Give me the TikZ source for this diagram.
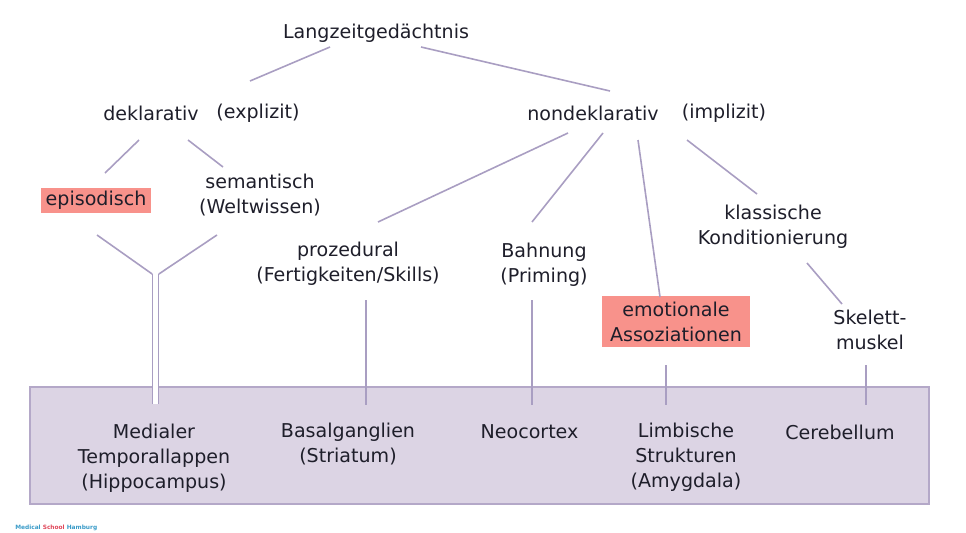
\documentclass[tikz,border=0pt]{standalone}
\usepackage{fontspec}
\setmainfont{DejaVu Sans}
\usepackage{xcolor}
\usepackage{tikz}
\usetikzlibrary{positioning}
\definecolor{mslila}{HTML}{A99EC2}
\definecolor{msbox}{HTML}{DCD4E4}
\definecolor{msrand}{HTML}{B4A8C8}
\definecolor{msrosa}{HTML}{F8928B}
\definecolor{mstext}{HTML}{1E1E2A}
\definecolor{msblau}{HTML}{3A9BC8}
\definecolor{msrot}{HTML}{E0475A}

\begin{document}
\begin{tikzpicture}[
  x=0.75pt, y=-0.75pt,
  lbl/.style={
    inner sep=0pt, align=center, text=mstext,
    font=\fontsize{14.3}{18.75}\selectfont
  },
  hilite/.style={
    lbl, fill=msrosa, minimum width=#1, minimum height=18.75pt
  },
  conn/.style={draw=mslila, line width=1.2pt},
]
\useasboundingbox (0,0) rectangle (966,532);

% Hirnstrukturen (Kasten unten)
\draw[fill=msbox, draw=msrand, line width=1pt] (30,387) rectangle (929,504);

% Obere Ebenen
\node[lbl] (lang) at (376,33) {Langzeitgedächtnis};
\node[lbl] (dekl) at (151,113) {deklarativ};
\node[lbl] (expl) at (258,113) {(explizit)};
\node[lbl] (nondekl) at (593,113) {nondeklarativ};
\node[lbl] (impl) at (724,113) {(implizit)};

% deklarativ
\node[hilite=82.5pt] (epi) at (96,200.5) {episodisch};
\node[lbl] (sem) at (260,195) {semantisch\\(Weltwissen)};

% nondeklarativ
\node[lbl] (proz) at (348,264) {prozedural\\(Fertigkeiten/Skills)};
\node[lbl] (bahn) at (544,265) {Bahnung\\(Priming)};
\node[hilite=111pt, minimum height=38.25pt] (emo) at (676,321.5) {emotionale\\Assoziationen};
\node[lbl] (klass) at (773,227) {klassische\\Konditionierung};
\node[lbl] (skel) at (870,330) {Skelett-\\muskel};

% Strukturen
\node[lbl] (medial) at (154,458) {Medialer\\Temporallappen\\(Hippocampus)};
\node[lbl] (basal) at (348,444.5) {Basalganglien\\(Striatum)};
\node[lbl] (neo) at (529.5,432) {Neocortex};
\node[lbl] (limb) at (686,457.5) {Limbische\\Strukturen\\(Amygdala)};
\node[lbl] (cereb) at (840,432) {Cerebellum};

% Verbindungen
\draw[conn] ([shift={(-46,14)}]lang.center) -- ([shift={(99,-32)}]dekl.center);
\draw[conn] ([shift={(45,14)}]lang.center) -- ([shift={(17,-22)}]nondekl.center);
\draw[conn] ([shift={(-12,27)}]dekl.center) -- ([shift={(9,-27.5)}]epi.center);
\draw[conn] ([shift={(37,27)}]dekl.center) -- ([shift={(-37,-28)}]sem.center);

\coordinate (ytop) at (155.5,274);
\draw[conn] ([shift={(1,34.5)}]epi.center) -- ([xshift=-2.5]ytop);
\draw[conn] ([shift={(-43,40)}]sem.center) -- ([xshift=2.5]ytop);
\draw[conn, double=white, double distance=3.5pt, line width=0.9pt]
  (ytop) -- ([shift={(1.5,-54)}]medial.center);

\draw[conn] ([shift={(-25,20)}]nondekl.center) -- ([shift={(30,-42)}]proz.center);
\draw[conn] ([shift={(10,20)}]nondekl.center) -- ([shift={(-12,-43)}]bahn.center);
\draw[conn] ([shift={(45,27)}]nondekl.center) -- ([shift={(-16,-24.5)}]emo.center);
\draw[conn] ([shift={(94,27)}]nondekl.center) -- ([shift={(-16,-33)}]klass.center);
\draw[conn] ([shift={(34,36)}]klass.center) -- ([shift={(-28,-26)}]skel.center);

\draw[conn] ([shift={(18,36)}]proz.center) -- ([shift={(18,-39.5)}]basal.center);
\draw[conn] ([shift={(-12,35)}]bahn.center) -- ([shift={(2.5,-27)}]neo.center);
\draw[conn] ([shift={(-10,43.5)}]emo.center) -- ([shift={(-20,-52.5)}]limb.center);
\draw[conn] ([shift={(-4,35)}]skel.center) -- ([shift={(26,-27)}]cereb.center);

% Logo
\node[inner sep=0pt, anchor=west, font=\fontsize{4.4}{5}\selectfont\bfseries] (logo) at (15,528)
  {\textcolor{msblau}{Medical} \textcolor{msrot}{School} \textcolor{msblau}{Hamburg}};
\end{tikzpicture}
\end{document}
